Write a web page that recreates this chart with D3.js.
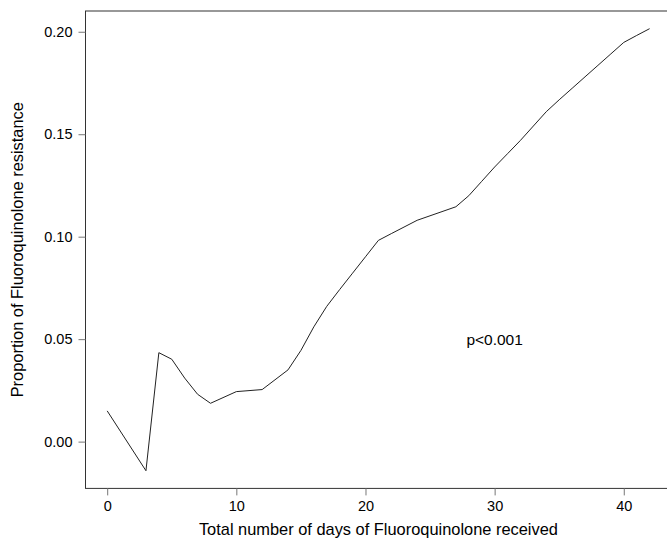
<!DOCTYPE html>
<html>
<head>
<meta charset="utf-8">
<script src="https://cdn.jsdelivr.net/npm/d3@7"></script>
<style>
    body { margin: 0; background: white; }
    svg { display: block; font-family: "Liberation Sans", Arial, sans-serif; }
</style>
</head>
<body>
<div id="chart-container"></div>
<script>
// days of fluoroquinolone received
const days = [0, 3, 4, 5, 6, 7, 8, 10, 12, 14, 15, 16, 17, 18, 19, 20, 21, 22, 24, 27, 28, 29, 30, 31, 32, 33, 34, 35, 36, 37, 38, 39, 40, 41, 42]
// proportion resistant
const proportion = [0.015, -0.0142, 0.0434, 0.0402, 0.031, 0.0231, 0.0187, 0.0244, 0.0254, 0.035, 0.0445,
    0.056, 0.066, 0.0742, 0.0822, 0.0902, 0.0982, 0.1015, 0.108, 0.1146, 0.12, 0.127, 0.134, 0.1405, 0.147,
    0.154, 0.161, 0.1668, 0.1724, 0.178, 0.1836, 0.1892, 0.1948, 0.1982, 0.2015]
const xTicks = [0, 10, 20, 30, 40]
const yTicks = [0, 0.05, 0.10, 0.15, 0.20]
const annotation = { x: 30, y: 0.05, text: 'p<0.001' }

const width = 667
const height = 541

const data = days.map((d, i) => ({ day: d, value: proportion[i] }))

// R-style 4% padding around the data range
const pad = (lo, hi) => [lo - (hi - lo) * 0.04, hi + (hi - lo) * 0.04]
const xDomain = pad(d3.min(days), d3.max(days))
const yDomain = pad(d3.min(proportion), d3.max(proportion))

const x = d3.scaleLinear().domain(xDomain).range([85.5, 671.3])
const y = d3.scaleLinear().domain(yDomain).range([488.4, 11])

const svg = d3.select('#chart-container')
    .append('svg')
    .attr('width', width)
    .attr('height', height)

// plot frame
svg.append('rect')
    .attr('x', x.range()[0])
    .attr('y', y.range()[1])
    .attr('width', x.range()[1] - x.range()[0])
    .attr('height', y.range()[0] - y.range()[1])
    .attr('fill', 'none')
    .attr('stroke', '#333')
    .attr('stroke-width', 1)

const xAxis = svg.append('g')
    .attr('transform', `translate(0,${y.range()[0]})`)
    .call(d3.axisBottom(x).tickValues(xTicks).tickFormat(d3.format('d')).tickSize(7).tickPadding(5))
xAxis.select('.domain').remove()

const yAxis = svg.append('g')
    .attr('transform', `translate(${x.range()[0]},0)`)
    .call(d3.axisLeft(y).tickValues(yTicks).tickFormat(d3.format('.2f')).tickSize(7).tickPadding(6))
yAxis.select('.domain').remove()

svg.selectAll('.tick line').attr('stroke', '#777')
svg.selectAll('.tick text')
    .attr('fill', '#000')
    .style('font-size', '14.5px')
    .style('font-family', '"Liberation Sans", Arial, sans-serif')

svg.append('path')
    .datum(data)
    .attr('fill', 'none')
    .attr('stroke', '#222')
    .attr('stroke-width', 1)
    .attr('d', d3.line().x(d => x(d.day)).y(d => y(d.value)))

svg.append('text')
    .attr('x', x(annotation.x))
    .attr('y', y(annotation.y))
    .attr('dy', '0.35em')
    .attr('text-anchor', 'middle')
    .style('font-size', '15.5px')
    .text(annotation.text)

svg.append('text')
    .attr('x', (x.range()[0] + x.range()[1]) / 2)
    .attr('y', 535)
    .attr('text-anchor', 'middle')
    .style('font-size', '16.4px')
    .text('Total number of days of Fluoroquinolone received')

svg.append('text')
    .attr('transform', `translate(23,${(y.range()[0] + y.range()[1]) / 2}) rotate(-90)`)
    .attr('text-anchor', 'middle')
    .style('font-size', '16.4px')
    .text('Proportion of Fluoroquinolone resistance')
</script>
</body>
</html>
